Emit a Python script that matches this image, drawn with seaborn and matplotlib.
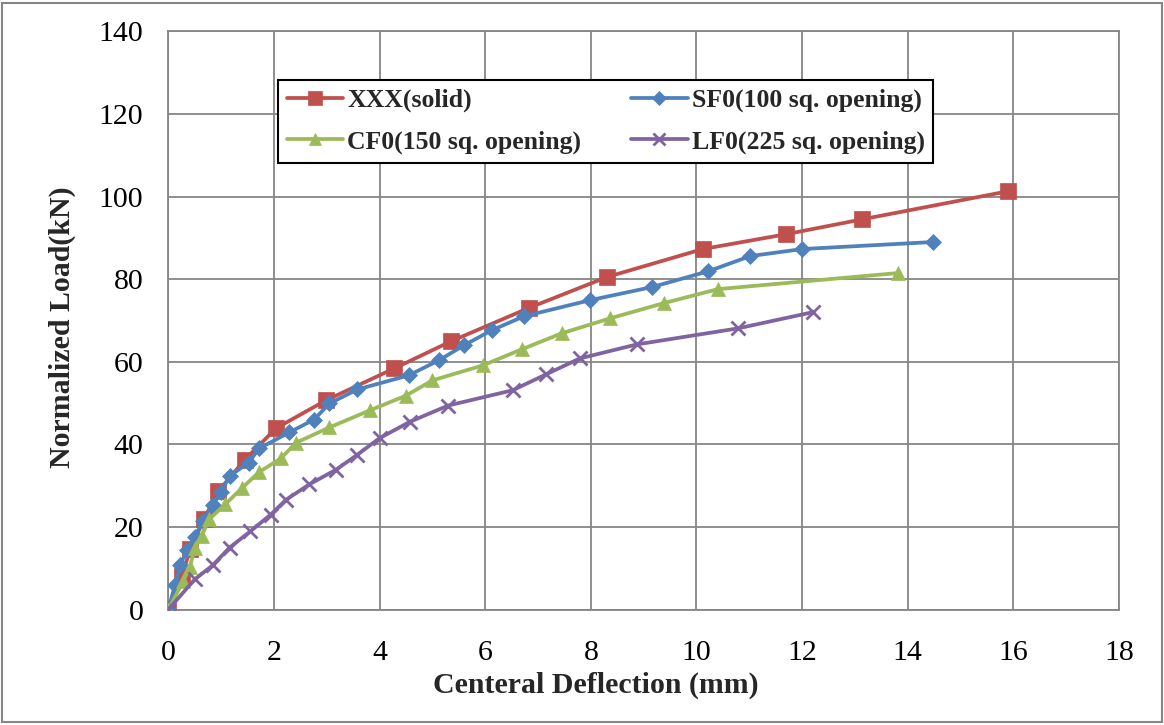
import matplotlib
matplotlib.use("Agg")
import matplotlib.pyplot as plt
import seaborn as sns
import pandas as pd
from matplotlib.lines import Line2D
from matplotlib.patches import Rectangle
from matplotlib.ticker import MultipleLocator

# ---------------- data ----------------
xxx_x = [0, 0.25, 0.42, 0.68, 0.95, 1.45, 2.04, 2.99, 4.28, 5.36, 6.82, 8.30, 10.12, 11.70, 13.14, 15.90]
xxx_y = [0, 8, 14.7, 22, 28.7, 36.3, 43.9, 50.7, 58.4, 65, 73, 80.5, 87.3, 90.9, 94.5, 101.3]

sf0_x = [0, 0.13, 0.22, 0.36, 0.5, 0.66, 0.84, 1.0, 1.16, 1.52, 1.72, 2.29, 2.76, 3.05, 3.58,
         4.55, 5.13, 5.6, 6.12, 6.73, 7.98, 9.16, 10.22, 11.02, 12.0, 14.47]
sf0_y = [0, 6, 10.9, 14.3, 17.6, 21.5, 25.2, 28.5, 32.3, 35.6, 39, 42.9, 46, 49.9, 53.3,
         56.7, 60.4, 64, 67.6, 71, 74.9, 78.1, 81.9, 85.6, 87.3, 89]

cf0_x = [0, 0.28, 0.41, 0.5, 0.63, 0.77, 1.08, 1.4, 1.72, 2.13, 2.42, 3.05, 3.81, 4.5, 5.0,
         5.95, 6.69, 7.45, 8.36, 9.38, 10.41, 13.82]
cf0_y = [0, 6.8, 10.4, 14.9, 17.8, 21.8, 25.5, 29.5, 33.3, 36.6, 40.4, 44.1, 48.2, 51.8, 55.5,
         59.1, 63, 66.9, 70.5, 74.2, 77.6, 81.5]

lf0_x = [0, 0.5, 0.84, 1.16, 1.55, 1.94, 2.23, 2.67, 3.18, 3.58, 4.0, 4.58, 5.3, 6.52, 7.16,
         7.79, 8.87, 10.79, 12.2]
lf0_y = [0, 7.3, 10.7, 15, 18.9, 23, 26.6, 30.3, 33.9, 37.5, 41.5, 45.5, 49.4, 53.1, 57,
         60.8, 64.2, 68.1, 72]

series_names = ["XXX(solid)", "SF0(100 sq. opening)", "CF0(150 sq. opening)", "LF0(225 sq. opening)"]
x_ticks = [0, 2, 4, 6, 8, 10, 12, 14, 16, 18]
y_ticks = [0, 20, 40, 60, 80, 100, 120, 140]
x_label = "Centeral Deflection (mm)"
y_label = "Normalized Load(kN)"

# ---------------- style ----------------
sns.set_style("white")
plt.rcParams["font.family"] = ["Liberation Serif", "DejaVu Serif"]

colors = ["#C0504D", "#4F81BD", "#9BBB59", "#8064A2"]
markers = ["s", "D", "^", "x"]
msizes = [11.5, 8.5, 10.5, 10]
grid_c = "#868686"

fig = plt.figure(figsize=(11.64, 7.25), dpi=100)
ax = fig.add_axes([0.1446, 0.1593, 0.9613 - 0.1446, 0.9566 - 0.1593])

data = [(xxx_x, xxx_y), (sf0_x, sf0_y), (cf0_x, cf0_y), (lf0_x, lf0_y)]
for (xs, ys), name, c, m, ms in zip(data, series_names, colors, markers, msizes):
    df = pd.DataFrame({"x": xs, "y": ys})
    sns.lineplot(data=df, x="x", y="y", ax=ax, sort=False, estimator=None,
                 color=c, lw=2.7, marker=m, markersize=ms,
                 markeredgecolor=c, markerfacecolor=c,
                 markeredgewidth=(2 if m == "x" else 0.5), legend=False, zorder=3)

ax.set_xlim(0, 18)
ax.set_ylim(0, 140)
ax.set_xticks(x_ticks)
ax.set_yticks(y_ticks)
ax.xaxis.set_minor_locator(MultipleLocator(1))
ax.yaxis.set_minor_locator(MultipleLocator(10))
ax.grid(True, which="major", color=grid_c, lw=1.3, zorder=0)
for s in ax.spines.values():
    s.set_color(grid_c)
    s.set_linewidth(1.3)

ax.tick_params(axis="both", which="major", direction="out", length=6, width=1.2,
               color=grid_c, labelsize=21.5, labelcolor="black")
ax.tick_params(axis="x", which="major", pad=16)
ax.tick_params(axis="y", which="major", pad=12)
ax.tick_params(axis="x", which="minor", direction="in", length=5, width=1.2, color=grid_c)
ax.tick_params(axis="y", which="minor", direction="inout", length=12, width=1.2, color=grid_c)

ax.set_xlabel(x_label, fontsize=21.5, fontweight="bold")
ax.set_ylabel(y_label, fontsize=21.5, fontweight="bold")
ax.xaxis.set_label_coords(0.45, -0.108)
ax.yaxis.set_label_coords(-0.097, 0.489)

handles = []
for name, c, m, ms in zip(series_names, colors, markers, msizes):
    handles.append(Line2D([], [], color=c, lw=2.7, marker=m, markersize=ms * 0.85,
                          markerfacecolor=c, markeredgecolor=c,
                          markeredgewidth=(2 if m == "x" else 0.5), label=name))
order = [0, 2, 1, 3]
leg = ax.legend([handles[i] for i in order], [series_names[i] for i in order],
                ncol=2, loc="upper left", bbox_to_anchor=(0.2388, 0.8897),
                bbox_transform=fig.transFigure, borderaxespad=0,
                prop={"family": ["Liberation Serif"], "weight": "bold", "size": 18.5},
                frameon=True, fancybox=False, edgecolor="black", framealpha=1,
                handlelength=2.2, handletextpad=0.15, columnspacing=1.95,
                labelspacing=0.71, borderpad=0.34)
leg.get_frame().set_linewidth(1.5)

fig.patches.append(Rectangle((0.002, 0.004), 0.996, 0.992, transform=fig.transFigure,
                             fill=False, edgecolor=grid_c, lw=1.5))

fig.savefig("out.png", dpi=100)
